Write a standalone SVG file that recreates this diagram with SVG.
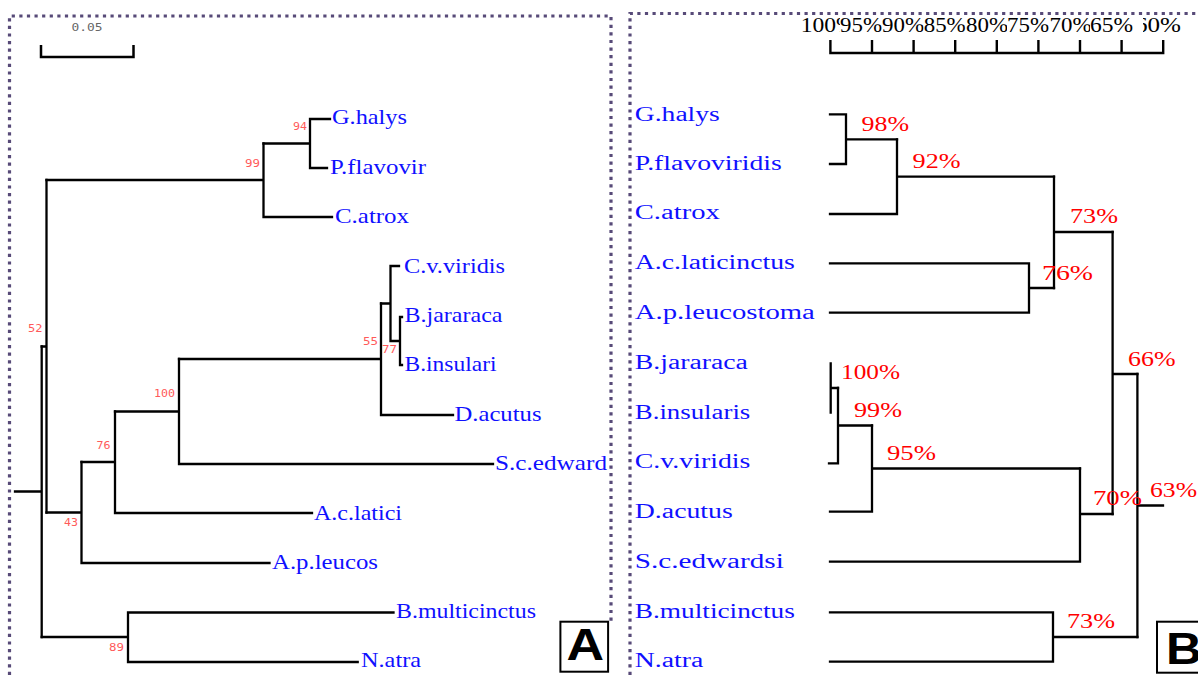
<svg xmlns="http://www.w3.org/2000/svg" width="1198" height="675" viewBox="0 0 1198 675">
<style>
.br{stroke:#000;stroke-width:2.3;fill:none;stroke-linecap:square}
.sp{font-family:"Liberation Serif",serif;font-size:21px;fill:#1010ff}
.spr{font-family:"Liberation Serif",serif;font-size:20px;fill:#1010ff}
.bs{font-family:"DejaVu Sans Mono","Liberation Mono",monospace;font-size:10px;fill:#ff5a5a}
.pc{font-family:"Liberation Serif",serif;font-size:20px;fill:#ff0000}
.sc{font-family:"Liberation Serif",serif;font-size:20px;fill:#000}
.bd{fill:none;stroke:#574a78;stroke-width:3.2;stroke-dasharray:3.2 4.4}
.lbl{font-family:"Liberation Sans",Arial,sans-serif;font-weight:bold;font-size:44px;fill:#000}
.box{fill:#fff;stroke:#000;stroke-width:2}
</style>
<rect width="1198" height="675" fill="#fff"/>
<!-- panel borders -->
<path class="bd" d="M9.5 675 V16 H611 V622"/>
<path class="bd" d="M630 675 V13.5 H1198"/>

<!-- Panel A scale bar -->
<g id="a-scale">
<text x="71.5" y="30.5" font-family="DejaVu Sans Mono,monospace" font-size="10.5" fill="#666" textLength="31" lengthAdjust="spacingAndGlyphs">0.05</text>
<path d="M41 45 V57 H133.5 V45" fill="none" stroke="#000" stroke-width="2.5"/>
</g>

<!-- Panel A connectors -->
<g id="a-connectors" class="br">
<path d="M310 119 H330 M310 168 H327 M310 119 V168 M263.5 143.5 H310"/>
<path d="M263.5 217 H332 M263.5 143.5 V217 M46.5 180 H263.5"/>
<path d="M390.5 266 H399 M390.5 266 V341 M390.5 341 H400 M400 317 V365 M400 317 H402 M400 365 H402 M381 303.5 H390.5"/>
<path d="M381 303.5 V415 M381 415 H453 M179 359 H381"/>
<path d="M179 464 H493 M179 359 V464 M115 411.5 H179"/>
<path d="M115 513 H312 M115 411.5 V513 M81.5 462 H115"/>
<path d="M81.5 563 H269.5 M81.5 462 V563 M46.5 512.5 H81.5"/>
<path d="M46.5 180 V512.5 M41.7 346.5 H46.5"/>
<path d="M128 612.5 H393.5 M128 662 H357.7 M128 612.5 V662 M41.7 637 H128"/>
<path d="M41.7 346.5 V637 M15 491.5 H41.7"/>
</g>

<!-- Panel A bootstrap values -->
<g id="a-support">
<text class="bs" x="293" y="130" textLength="14" lengthAdjust="spacingAndGlyphs">94</text>
<text class="bs" x="245" y="167" textLength="15" lengthAdjust="spacingAndGlyphs">99</text>
<text class="bs" x="28" y="332" textLength="14.5" lengthAdjust="spacingAndGlyphs">52</text>
<text class="bs" x="363" y="345" textLength="15" lengthAdjust="spacingAndGlyphs">55</text>
<text class="bs" x="382" y="353" textLength="15" lengthAdjust="spacingAndGlyphs">77</text>
<text class="bs" x="154" y="397" textLength="21" lengthAdjust="spacingAndGlyphs">100</text>
<text class="bs" x="96.5" y="449" textLength="14" lengthAdjust="spacingAndGlyphs">76</text>
<text class="bs" x="64" y="526" textLength="14" lengthAdjust="spacingAndGlyphs">43</text>
<text class="bs" x="109" y="651" textLength="15" lengthAdjust="spacingAndGlyphs">89</text>
</g>

<!-- Panel A taxa -->
<g id="a-ghalys"><text class="sp" x="332" y="124" textLength="75" lengthAdjust="spacingAndGlyphs">G.halys</text></g>
<g id="a-pflavovir"><text class="sp" x="330" y="173.5" textLength="96" lengthAdjust="spacingAndGlyphs">P.flavovir</text></g>
<g id="a-catrox"><text class="sp" x="335" y="223" textLength="74" lengthAdjust="spacingAndGlyphs">C.atrox</text></g>
<g id="a-cvviridis"><text class="sp" x="404" y="272.5" textLength="101" lengthAdjust="spacingAndGlyphs">C.v.viridis</text></g>
<g id="a-bjararaca"><text class="sp" x="404.5" y="322" textLength="98" lengthAdjust="spacingAndGlyphs">B.jararaca</text></g>
<g id="a-binsulari"><text class="sp" x="404.5" y="371" textLength="92" lengthAdjust="spacingAndGlyphs">B.insulari</text></g>
<g id="a-dacutus"><text class="sp" x="454.5" y="420.5" textLength="87" lengthAdjust="spacingAndGlyphs">D.acutus</text></g>
<g id="a-scedward"><text class="sp" x="495" y="470" textLength="112" lengthAdjust="spacingAndGlyphs">S.c.edward</text></g>
<g id="a-aclatici"><text class="sp" x="314" y="519.5" textLength="88" lengthAdjust="spacingAndGlyphs">A.c.latici</text></g>
<g id="a-apleucos"><text class="sp" x="272" y="568.5" textLength="106" lengthAdjust="spacingAndGlyphs">A.p.leucos</text></g>
<g id="a-bmulticinctus"><text class="sp" x="396" y="618" textLength="140" lengthAdjust="spacingAndGlyphs">B.multicinctus</text></g>
<g id="a-natra"><text class="sp" x="361" y="667" textLength="60" lengthAdjust="spacingAndGlyphs">N.atra</text></g>

<g id="a-label">
<rect class="box" x="560.4" y="621.7" width="47.7" height="50"/>
<text class="lbl" x="566.4" y="660" textLength="37.6" lengthAdjust="spacingAndGlyphs">A</text>
</g>

<!-- Panel B scale -->
<g id="b-scale">
<rect x="1135" y="15" width="50" height="20" fill="#fff"/>
<text class="sc" x="1135" y="32.3" textLength="46" lengthAdjust="spacingAndGlyphs">60%</text>
<rect x="800.7" y="15" width="56" height="20" fill="#fff"/>
<text class="sc" x="800.7" y="32.3" textLength="55" lengthAdjust="spacingAndGlyphs">100%</text>
<rect x="840" y="15" width="48" height="20" fill="#fff"/>
<text class="sc" x="840" y="32.3" textLength="42" lengthAdjust="spacingAndGlyphs">95%</text>
<rect x="882" y="15" width="48" height="20" fill="#fff"/>
<text class="sc" x="882" y="32.3" textLength="42" lengthAdjust="spacingAndGlyphs">90%</text>
<rect x="923.7" y="15" width="48" height="20" fill="#fff"/>
<text class="sc" x="923.7" y="32.3" textLength="42" lengthAdjust="spacingAndGlyphs">85%</text>
<rect x="966" y="15" width="48" height="20" fill="#fff"/>
<text class="sc" x="966" y="32.3" textLength="42" lengthAdjust="spacingAndGlyphs">80%</text>
<rect x="1007" y="15" width="48" height="20" fill="#fff"/>
<text class="sc" x="1007" y="32.3" textLength="42" lengthAdjust="spacingAndGlyphs">75%</text>
<rect x="1049.6" y="15" width="48" height="20" fill="#fff"/>
<text class="sc" x="1049.6" y="32.3" textLength="42" lengthAdjust="spacingAndGlyphs">70%</text>
<rect x="1090" y="15" width="53" height="20" fill="#fff"/>
<text class="sc" x="1090" y="32.3" textLength="43" lengthAdjust="spacingAndGlyphs">65%</text>
<path d="M830.4 40 V53 H1163.2 V40 M872 40 V53 M913.6 40 V53 M955.2 40 V53 M996.8 40 V53 M1038.4 40 V53 M1080 40 V53 M1121.6 40 V53" fill="none" stroke="#000" stroke-width="2.4"/>
</g>

<!-- Panel B connectors -->
<g id="b-connectors" class="br">
<path d="M830 114.3 H846 M830 164 H846 M846 114.3 V164 M846 139.3 H897"/>
<path d="M830 214 H897 M897 139.3 V214 M897 176.7 H1054"/>
<path d="M830 263.3 H1029 M830 312.7 H1029 M1029 263.3 V312.7 M1029 288 H1054"/>
<path d="M1054 176.7 V288 M1054 232 H1112.6"/>
<path d="M830.7 363.3 V412.7 M830.7 388 H838"/>
<path d="M829 463.3 H838 M838 388 V463.3 M838 425.5 H872"/>
<path d="M830 511.7 H872 M872 425.5 V511.7 M872 468.5 H1080"/>
<path d="M830 561.7 H1080 M1080 468.5 V561.7 M1080 514 H1112.6"/>
<path d="M1112.6 232 V514 M1112.6 374 H1137.4"/>
<path d="M830 612.3 H1053 M830 661.7 H1053 M1053 612.3 V661.7 M1053 637 H1137.4"/>
<path d="M1137.4 374 V637 M1137.4 505.5 H1163"/>
</g>

<!-- Panel B percentages -->
<g id="b-support">
<text class="pc" x="861.5" y="130.5" textLength="47.5" lengthAdjust="spacingAndGlyphs">98%</text>
<text class="pc" x="912.6" y="168.3" textLength="48" lengthAdjust="spacingAndGlyphs">92%</text>
<text class="pc" x="1070" y="223.3" textLength="48" lengthAdjust="spacingAndGlyphs">73%</text>
<text class="pc" x="1042" y="280" textLength="51" lengthAdjust="spacingAndGlyphs">76%</text>
<text class="pc" x="1128" y="365.7" textLength="47.5" lengthAdjust="spacingAndGlyphs">66%</text>
<text class="pc" x="841" y="379" textLength="59" lengthAdjust="spacingAndGlyphs">100%</text>
<text class="pc" x="854" y="417.3" textLength="48" lengthAdjust="spacingAndGlyphs">99%</text>
<text class="pc" x="887" y="460" textLength="49" lengthAdjust="spacingAndGlyphs">95%</text>
<text class="pc" x="1093" y="505" textLength="49" lengthAdjust="spacingAndGlyphs">70%</text>
<text class="pc" x="1150" y="496.7" textLength="47" lengthAdjust="spacingAndGlyphs">63%</text>
<text class="pc" x="1067" y="628.3" textLength="48" lengthAdjust="spacingAndGlyphs">73%</text>
</g>

<!-- Panel B taxa -->
<g id="b-ghalys"><text class="spr" x="634.8" y="120.7" textLength="85" lengthAdjust="spacingAndGlyphs">G.halys</text></g>
<g id="b-pflavoviridis"><text class="spr" x="634.8" y="169.7" textLength="147" lengthAdjust="spacingAndGlyphs">P.flavoviridis</text></g>
<g id="b-catrox"><text class="spr" x="634.8" y="219.3" textLength="85" lengthAdjust="spacingAndGlyphs">C.atrox</text></g>
<g id="b-aclaticinctus"><text class="spr" x="634.8" y="269" textLength="160" lengthAdjust="spacingAndGlyphs">A.c.laticinctus</text></g>
<g id="b-apleucostoma"><text class="spr" x="634.8" y="318.5" textLength="180" lengthAdjust="spacingAndGlyphs">A.p.leucostoma</text></g>
<g id="b-bjararaca"><text class="spr" x="634.8" y="368.5" textLength="113" lengthAdjust="spacingAndGlyphs">B.jararaca</text></g>
<g id="b-binsularis"><text class="spr" x="634.8" y="418.5" textLength="115.5" lengthAdjust="spacingAndGlyphs">B.insularis</text></g>
<g id="b-cvviridis"><text class="spr" x="634.8" y="468" textLength="115.5" lengthAdjust="spacingAndGlyphs">C.v.viridis</text></g>
<g id="b-dacutus"><text class="spr" x="634.8" y="517.5" textLength="98" lengthAdjust="spacingAndGlyphs">D.acutus</text></g>
<g id="b-scedwardsi"><text class="spr" x="634.8" y="567.5" textLength="149" lengthAdjust="spacingAndGlyphs">S.c.edwardsi</text></g>
<g id="b-bmulticinctus"><text class="spr" x="634.8" y="617.5" textLength="160" lengthAdjust="spacingAndGlyphs">B.multicinctus</text></g>
<g id="b-natra"><text class="spr" x="634.8" y="667" textLength="68.5" lengthAdjust="spacingAndGlyphs">N.atra</text></g>

<g id="b-label">
<rect class="box" x="1157" y="621.7" width="50" height="51"/>
<text class="lbl" x="1166" y="664" textLength="36" lengthAdjust="spacingAndGlyphs">B</text>
</g>
</svg>
